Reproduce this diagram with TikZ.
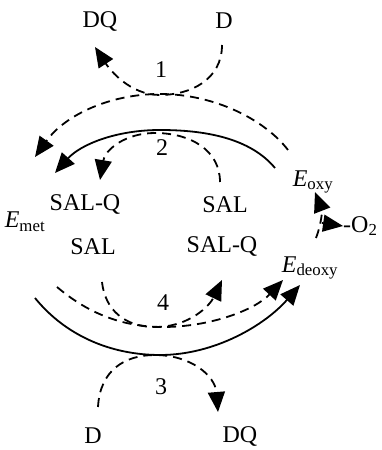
\documentclass[tikz,border=0pt]{standalone}
\usepackage{fontspec}
\setmainfont{Liberation Serif}
\usetikzlibrary{arrows.meta, positioning, calc}

\begin{document}
\begin{tikzpicture}[x=1pt, y=1pt, >={Triangle[length=20pt,width=17pt]},
            lbl/.style={font=\fontsize{24}{27}\selectfont, inner sep=0pt},
            flow/.style={line width=1.8pt, ->},
            dflow/.style={flow, dash pattern=on 9pt off 6pt}]

            \useasboundingbox (0,0) rectangle (382,450);

            % labels
            \node[lbl] (dqT) at (100,428) {DQ};
            \node[lbl] (dT) at (224,429) {D};
            \node[lbl] (one) at (161,380) {1};
            \node[lbl] (two) at (162,302) {2};
            \node[lbl] (eoxy) at (313,268) {\textit{E}\textsubscript{oxy}};
            \node[lbl] (salqU) at (85,245) {SAL-Q};
            \node[lbl] (salU) at (225,245) {SAL};
            \node[lbl] (emet) at (25,228) {\textit{E}\textsubscript{met}};
            \node[lbl] (salL) at (93,203) {SAL};
            \node[lbl] (salqL) at (222,203) {SAL-Q};
            \node[lbl] (edeoxy) at (310,182) {\textit{E}\textsubscript{deoxy}};
            \node[lbl, anchor=west] (otwo) at (343,224) {-O\textsubscript{2}};
            \node[lbl] (four) at (163,147) {4};
            \node[lbl] (three) at (161,63) {3};
            \node[lbl] (dB) at (93,14) {D};
            \node[lbl] (dqB) at (240,14) {DQ};

            % curve ends
            \coordinate (c1s) at (222,405);
            \coordinate (c1e) at (95,403);
            \coordinate (c2s) at (288,300);
            \coordinate (c2e) at (35,293);
            \coordinate (c3s) at (275,282);
            \coordinate (c3e) at (55,277);
            \coordinate (c4s) at (220,268);
            \coordinate (c4e) at (100,270);
            \coordinate (c5s) at (35,152);
            \coordinate (c5e) at (300,165);
            \coordinate (c6s) at (57,163);
            \coordinate (c6e) at (283,170);
            \coordinate (c7s) at (102,168);
            \coordinate (c7e) at (222,170);
            \coordinate (c8s) at (98,43);
            \coordinate (c8e) at (218,38);
            \coordinate (c9s) at (316,212);
            \coordinate (c9e) at (315,258);
            \coordinate (c10s) at (322,227);

            % ===== step 1 / 2 (top) =====
            \draw[dflow] (c1s) .. controls (222,370) and (190,355) .. (160,355)
                               .. controls (130,355) and (110,380) .. (c1e);
            \draw[dflow] (c2s) .. controls (265,330) and (215,356) .. (160,356)
                               .. controls (110,356) and (65,335) .. (c2e);
            \draw[flow] (c3s) .. controls (250,312) and (205,320) .. (160,320)
                              .. controls (115,320) and (80,305) .. (c3e);
            \draw[dflow] (c4s) .. controls (220,300) and (190,317) .. (155,317)
                               .. controls (125,317) and (105,300) .. (c4e);

            % ===== step 3 / 4 (bottom) =====
            \draw[flow] (c5s) .. controls (65,115) and (110,95) .. (160,95)
                              .. controls (215,95) and (265,125) .. (c5e);
            \draw[dflow] (c6s) .. controls (90,135) and (125,123) .. (163,123)
                               .. controls (210,123) and (255,140) .. (c6e);
            \draw[dflow] (c7s) .. controls (105,140) and (125,123) .. (155,123)
                               .. controls (190,123) and (210,145) .. (c7e);
            \draw[dflow] (c8s) .. controls (100,80) and (125,95) .. (155,95)
                               .. controls (190,95) and (215,75) .. (c8e);

            % ===== O2 =====
            \draw[dflow] (c9s) .. controls (322,228) and (322,240) .. (c9e);
            \draw[flow] (c10s) -- (otwo.west);
        \end{tikzpicture}
\end{document}
